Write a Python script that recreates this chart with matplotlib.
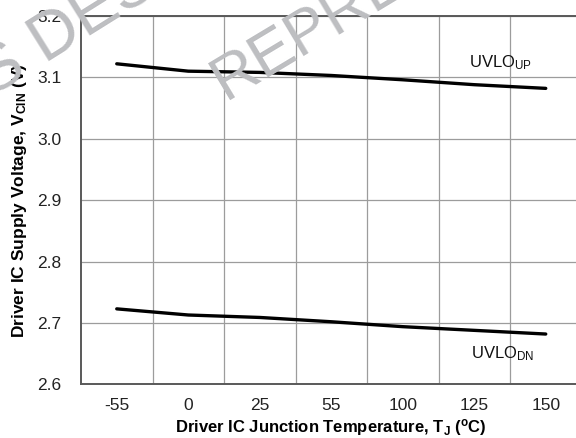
import matplotlib
matplotlib.use("Agg")
import matplotlib.pyplot as plt

plt.rcParams['font.family'] = ['Liberation Sans', 'DejaVu Sans']
plt.rcParams['mathtext.fontset'] = 'custom'
plt.rcParams['mathtext.rm'] = 'Liberation Sans'
plt.rcParams['mathtext.it'] = 'Liberation Sans'
plt.rcParams['mathtext.bf'] = 'Liberation Sans:bold'

categories = ["-55", "0", "25", "55", "100", "125", "150"]
uvlo_up = [3.122, 3.110, 3.108, 3.103, 3.096, 3.088, 3.082]
uvlo_dn = [2.723, 2.713, 2.709, 2.702, 2.694, 2.688, 2.682]
y_ticks = [2.6, 2.7, 2.8, 2.9, 3.0, 3.1, 3.2]

fig = plt.figure(figsize=(5.76, 4.38), dpi=100)
ax = fig.add_axes([81/576, 53.6/438, 500.5/576, 368.5/438])

x = list(range(len(categories)))
ax.plot(x, uvlo_up, color='black', lw=2.4, solid_capstyle='round', zorder=3)
ax.plot(x, uvlo_dn, color='black', lw=2.4, solid_capstyle='round', zorder=3)

ax.set_xlim(-0.5, len(categories) - 0.5)
ax.set_ylim(2.6, 3.2)
ax.set_xticks(x)
ax.set_xticklabels(categories)
ax.set_yticks(y_ticks)
ax.set_yticklabels([f"{v:.1f}" for v in y_ticks])
ax.set_xticks([i + 0.5 for i in x[:-1]], minor=True)
ax.tick_params(axis='both', which='both', length=0, labelsize=12.5, colors='#222222')
ax.tick_params(axis='y', pad=14)
ax.tick_params(axis='x', pad=10)
ax.grid(True, which='minor', axis='x', color='#9c9c9c', lw=0.9)
ax.grid(True, which='major', axis='y', color='#9c9c9c', lw=0.9)

for side in ['left', 'bottom', 'top']:
    ax.spines[side].set_color('#595959')
    ax.spines[side].set_linewidth(1.4)
ax.spines['right'].set_visible(False)

ax.text(4.93, 3.1168, r"UVLO$_{\mathrm{UP}}$", fontsize=12, ha='left', va='baseline', color='#111111')
ax.text(4.95, 2.643, r"UVLO$_{\mathrm{DN}}$", fontsize=12, ha='left', va='baseline', color='#111111')

ax.set_xlabel(r"Driver IC Junction Temperature, T$_\mathbf{J}$ ($^\mathbf{o}$C)",
              fontsize=12, fontweight='bold', labelpad=3)
ax.set_ylabel(r"Driver IC Supply Voltage, V$_\mathbf{CIN}$ (V)",
              fontsize=12.5, fontweight='bold', labelpad=6)

wm = '#bdbec1'
fig.text(-8 / 576, (438 - 98) / 438, "S DESIGNS", fontsize=48, color=wm, rotation=32,
         rotation_mode='anchor', ha='left', va='baseline', zorder=10)
fig.text(226 / 576, (438 - 101) / 438, "REPRESENTATIVE", fontsize=45, color=wm, rotation=31,
         rotation_mode='anchor', ha='left', va='baseline', zorder=10)

fig.savefig("out.png", dpi=100)
